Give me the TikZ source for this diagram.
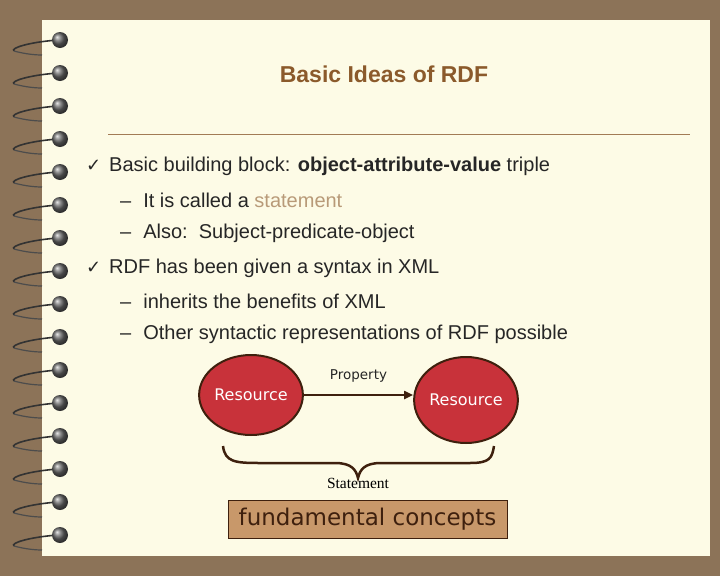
\documentclass[tikz,border=0pt]{standalone}
\usepackage{fontspec}
\setmainfont{Liberation Sans}
\newfontfamily\serifb{Liberation Serif}
\newfontfamily\dsans{DejaVu Sans}
\definecolor{bgbrown}{HTML}{8C7358}
\definecolor{paper}{HTML}{FDFBE6}
\definecolor{titlec}{HTML}{8B5A2B}
\definecolor{tanc}{HTML}{B89A78}
\definecolor{resred}{HTML}{C8323A}
\definecolor{dkb}{HTML}{3E200E}
\definecolor{boxc}{HTML}{C8986A}
\tikzset{
  res/.style={ellipse, fill=resred, draw=dkb, line width=2pt, inner sep=0pt, minimum width=92pt, minimum height=80pt, text=white, font=\dsans\fontsize{16}{18}\selectfont},
  txt/.style={anchor=west, font=\fontsize{20}{22}\selectfont, inner sep=0, text=black!85},
}
\usetikzlibrary{shapes.geometric,arrows.meta}
\begin{document}
\begin{tikzpicture}[x=1pt,y=-1pt]
\useasboundingbox (0,0) rectangle (720,576);
\fill[bgbrown] (0,0) rectangle (720,576);
\fill[paper] (42,20) rectangle (710,556);
\foreach \i in {0,...,15}{
  \pgfmathsetmacro\yy{40+33*\i}
  \draw[line width=1.6pt, black!80] (58,\yy) .. controls (30,\yy+2) and (10,\yy+8) .. (14,\yy+11);
  \draw[line width=1.2pt, black!70] (14,\yy+11) .. controls (25,\yy+14) and (35,\yy+15) .. (42,\yy+15);
  \shade[ball color=black!60] (60,\yy) circle (8);
}
\node[font=\bfseries\fontsize{23}{25}\selectfont, text=titlec] (title) at (384,74) {Basic Ideas of RDF};
\draw[titlec!80, line width=0.8pt] (108,134) -- (690,134);
\node[txt] (c1) at (86,166) {\dsans\fontsize{18}{20}\selectfont ✓};
\node[txt] (b1) at (109,166) {Basic building block: \textbf{object-attribute-value} triple};
\node[txt] (d1) at (120,200) {–\hspace{12pt}It is called a \textcolor{tanc}{statement}};
\node[txt] (d2) at (120,233) {–\hspace{12pt}Also:\ \ Subject-predicate-object};
\node[txt] (c2) at (86,268) {\dsans\fontsize{18}{20}\selectfont ✓};
\node[txt] (b2) at (109,268) {RDF has been given a syntax in XML};
\node[txt] (d3) at (120,301) {–\hspace{12pt}inherits the benefits of XML};
\node[txt] (d4) at (120,334) {–\hspace{12pt}Other syntactic representations of RDF possible};
\node[res] (r1) at (251,395) {Resource};
\node[res, minimum height=86pt] (r2) at (466,400) {Resource};
\draw[dkb, line width=2pt, -{Triangle[length=9pt,width=8pt]}] (r1.east) -- (r1.east -| r2.west) node[midway, above=8pt, text=black!85, font=\dsans\fontsize{13.5}{15}\selectfont] (p) {Property};
\draw[dkb, line width=2.5pt] (223,446) .. controls (225,462) and (235,463) .. (260,463) -- (335,463) .. controls (352,463) and (356,470) .. (358,478) .. controls (360,470) and (364,463) .. (381,463) -- (470,463) .. controls (490,463) and (492,458) .. (494,446);
\node[font=\serifb\fontsize{15.5}{17}\selectfont] (st) at (358,483) {Statement};
\node[draw=dkb, line width=0.8pt, fill=boxc, minimum width=279pt, minimum height=38pt, text=dkb, font=\dsans\fontsize{23}{26}\selectfont] (fc) at (367.5,519) {fundamental concepts};
\end{tikzpicture}
\end{document}
